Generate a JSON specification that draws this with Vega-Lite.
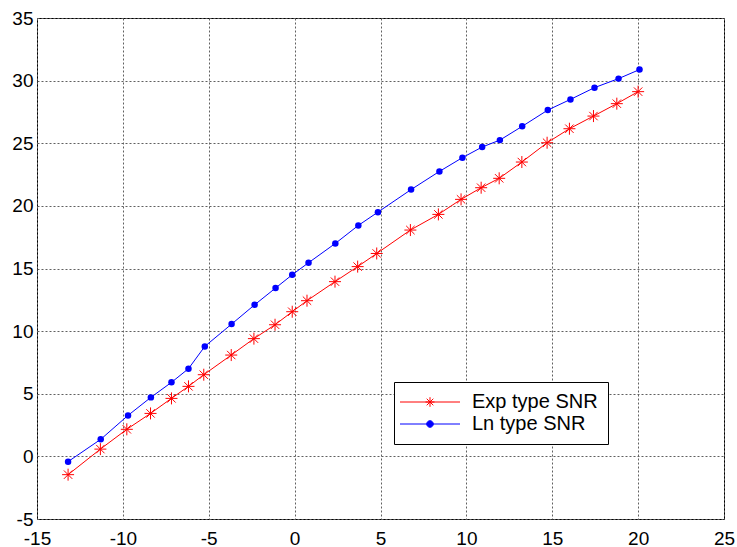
{
  "$schema": "https://vega.github.io/schema/vega-lite/v6.json",
  "width": 687,
  "height": 501,
  "autosize": {"type": "none"},
  "padding": {"left": 37, "top": 18, "right": 13, "bottom": 28},
  "background": "white",
  "config": {
    "view": {"stroke": "black", "strokeWidth": 1},
    "axis": {
      "domain": false,
      "ticks": false,
      "labelFont": "Liberation Sans",
      "labelFontSize": 19,
      "labelColor": "black",
      "grid": true,
      "gridColor": "#606060",
      "gridDash": [2, 2],
      "gridWidth": 1,
      "gridOpacity": 1,
      "title": null,
      "labelExpr": "replace(datum.label, '\u2212', '-')"
    },
    "axisX": {"labelPadding": 10, "labelFlush": false},
    "axisY": {"labelPadding": 4}
  },
  "data": {
    "values": [
      {"series": "Exp type SNR", "x": -13.19, "y": -1.46},
      {"series": "Exp type SNR", "x": -11.31, "y": 0.58},
      {"series": "Exp type SNR", "x": -9.77, "y": 2.16},
      {"series": "Exp type SNR", "x": -8.39, "y": 3.43},
      {"series": "Exp type SNR", "x": -7.17, "y": 4.63},
      {"series": "Exp type SNR", "x": -6.18, "y": 5.59},
      {"series": "Exp type SNR", "x": -5.29, "y": 6.52},
      {"series": "Exp type SNR", "x": -3.69, "y": 8.09},
      {"series": "Exp type SNR", "x": -2.37, "y": 9.40},
      {"series": "Exp type SNR", "x": -1.14, "y": 10.51},
      {"series": "Exp type SNR", "x": -0.14, "y": 11.55},
      {"series": "Exp type SNR", "x": 0.72, "y": 12.43},
      {"series": "Exp type SNR", "x": 2.35, "y": 13.95},
      {"series": "Exp type SNR", "x": 3.67, "y": 15.15},
      {"series": "Exp type SNR", "x": 4.78, "y": 16.2},
      {"series": "Exp type SNR", "x": 6.74, "y": 18.07},
      {"series": "Exp type SNR", "x": 8.37, "y": 19.32},
      {"series": "Exp type SNR", "x": 9.69, "y": 20.52},
      {"series": "Exp type SNR", "x": 10.86, "y": 21.45},
      {"series": "Exp type SNR", "x": 11.91, "y": 22.2},
      {"series": "Exp type SNR", "x": 13.23, "y": 23.5},
      {"series": "Exp type SNR", "x": 14.70, "y": 25.04},
      {"series": "Exp type SNR", "x": 16.0, "y": 26.16},
      {"series": "Exp type SNR", "x": 17.40, "y": 27.17},
      {"series": "Exp type SNR", "x": 18.76, "y": 28.16},
      {"series": "Exp type SNR", "x": 20.0, "y": 29.12},
      {"series": "Ln type SNR", "x": -13.19, "y": -0.42},
      {"series": "Ln type SNR", "x": -11.29, "y": 1.36},
      {"series": "Ln type SNR", "x": -9.70, "y": 3.27},
      {"series": "Ln type SNR", "x": -8.37, "y": 4.71},
      {"series": "Ln type SNR", "x": -7.17, "y": 5.91},
      {"series": "Ln type SNR", "x": -6.18, "y": 7.0},
      {"series": "Ln type SNR", "x": -5.23, "y": 8.78},
      {"series": "Ln type SNR", "x": -3.67, "y": 10.56},
      {"series": "Ln type SNR", "x": -2.33, "y": 12.1},
      {"series": "Ln type SNR", "x": -1.11, "y": 13.44},
      {"series": "Ln type SNR", "x": -0.14, "y": 14.5},
      {"series": "Ln type SNR", "x": 0.81, "y": 15.46},
      {"series": "Ln type SNR", "x": 2.37, "y": 17.0},
      {"series": "Ln type SNR", "x": 3.71, "y": 18.44},
      {"series": "Ln type SNR", "x": 4.85, "y": 19.5},
      {"series": "Ln type SNR", "x": 6.78, "y": 21.3},
      {"series": "Ln type SNR", "x": 8.43, "y": 22.75},
      {"series": "Ln type SNR", "x": 9.77, "y": 23.85},
      {"series": "Ln type SNR", "x": 10.92, "y": 24.7},
      {"series": "Ln type SNR", "x": 11.95, "y": 25.25},
      {"series": "Ln type SNR", "x": 13.25, "y": 26.35},
      {"series": "Ln type SNR", "x": 14.74, "y": 27.65},
      {"series": "Ln type SNR", "x": 16.06, "y": 28.5},
      {"series": "Ln type SNR", "x": 17.46, "y": 29.44},
      {"series": "Ln type SNR", "x": 18.86, "y": 30.16},
      {"series": "Ln type SNR", "x": 20.08, "y": 30.88}
    ]
  },
  "encoding": {
    "x": {
      "field": "x", "type": "quantitative",
      "scale": {"domain": [-15, 25], "nice": false, "zero": false},
      "axis": {"values": [-15, -10, -5, 0, 5, 10, 15, 20, 25]}
    },
    "y": {
      "field": "y", "type": "quantitative",
      "scale": {"domain": [-5, 35], "nice": false, "zero": false},
      "axis": {"values": [-5, 0, 5, 10, 15, 20, 25, 30, 35]}
    }
  },
  "layer": [
    {
      "mark": {"type": "line", "strokeWidth": 1},
      "encoding": {
        "color": {
          "field": "series", "type": "nominal",
          "scale": {"domain": ["Exp type SNR", "Ln type SNR"], "range": ["#ff0000", "#0000ff"]},
          "legend": {
            "title": null,
            "orient": "none",
            "legendX": 357,
            "legendY": 364,
            "padding": 10,
            "strokeColor": "black",
            "fillColor": "white",
            "labelFont": "Liberation Sans",
            "labelFontSize": 20,
            "labelColor": "black",
            "labelLimit": 300,
            "symbolType": "circle",
            "symbolSize": 36,
            "symbolOffset": 16,
            "labelOffset": 32,
            "rowPadding": 2,
            "symbolOpacity": 1,
            "symbolStrokeWidth": 1,
            "encode": {
              "symbols": {
                "update": {
                  "shape": {"signal": "datum.value === 'Exp type SNR' ? 'M-10,0H10M0,-1.6V1.6M-1.5,0H1.5M-1.1,-1.1L1.1,1.1M-1.1,1.1L1.1,-1.1' : 'M-10,0H10M1.1,0A1.1,1.1 0 1,1 -1.1,0A1.1,1.1 0 1,1 1.1,0Z'"},
                  "fill": {"signal": "datum.value === 'Exp type SNR' ? 'transparent' : '#0000ff'"},
                  "stroke": {"signal": "datum.value === 'Exp type SNR' ? '#ff0000' : '#0000ff'"},
                  "opacity": {"value": 1},
                  "fillOpacity": {"value": 1},
                  "strokeOpacity": {"value": 1},
                  "strokeWidth": {"value": 1}
                }
              }
            }
          }
        }
      }
    },
    {
      "transform": [{"filter": "datum.series === 'Exp type SNR'"}],
      "mark": {
        "type": "point",
        "shape": "M0,-1V1M-1,0H1M-0.7,-0.7L0.7,0.7M-0.7,0.7L0.7,-0.7",
        "filled": false,
        "size": 144,
        "strokeWidth": 1,
        "opacity": 1,
        "color": "#ff0000"
      }
    },
    {
      "transform": [{"filter": "datum.series === 'Ln type SNR'"}],
      "mark": {
        "type": "point",
        "shape": "circle",
        "filled": true,
        "size": 42,
        "opacity": 1,
        "color": "#0000ff"
      }
    }
  ]
}
